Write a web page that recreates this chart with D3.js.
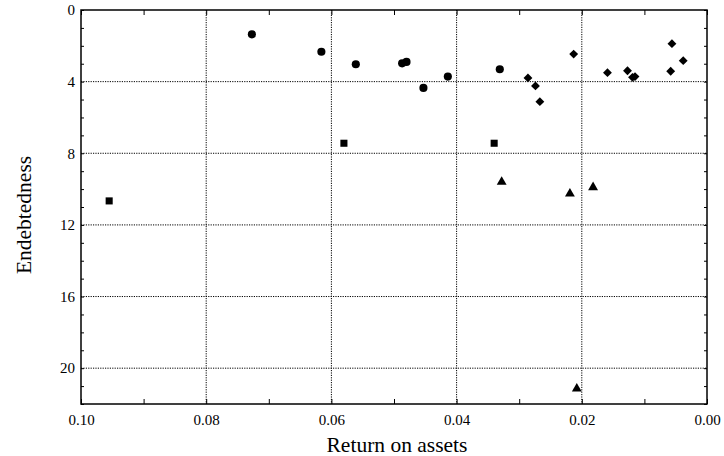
<!DOCTYPE html>
<html>
<head>
<meta charset="utf-8">
<script src="https://cdn.jsdelivr.net/npm/d3@7"></script>
<style>
  body { margin: 0; background: #fff; }
  svg text { font-family: "Liberation Serif", "Times New Roman", serif; fill: #000; }
  .grid line { stroke: #000; stroke-width: 1; stroke-dasharray: 1.2,1.2; }
  .tick-label { font-size: 15px; }
  .axis-title { font-size: 21.5px; }
</style>
</head>
<body>
<div class="chart"></div>
<script>
// Return on assets vs endebtedness, four groups of firms
var circleRoa  = [0.0727, 0.0616, 0.0561, 0.0487, 0.0480, 0.0453, 0.0414, 0.0331];
var circleDebt = [1.36, 2.33, 3.03, 2.98, 2.90, 4.35, 3.72, 3.31];

var diamondRoa  = [0.0286, 0.0274, 0.0267, 0.0213, 0.0159, 0.0127, 0.0119, 0.0115, 0.0056, 0.0058, 0.0038];
var diamondDebt = [3.79, 4.24, 5.12, 2.46, 3.50, 3.39, 3.76, 3.72, 1.88, 3.42, 2.83];

var squareRoa  = [0.0955, 0.0580, 0.0340];
var squareDebt = [10.66, 7.44, 7.44];

var triangleRoa  = [0.0328, 0.0219, 0.0182, 0.0208];
var triangleDebt = [9.6, 10.25, 9.9, 21.15];

var xTicks = [0.10, 0.08, 0.06, 0.04, 0.02, 0.00];
var yTicks = [0, 4, 8, 12, 16, 20];

var svgWidth = 724;
var svgHeight = 456;
var margin = { top: 10, right: 17, bottom: 52, left: 81 };
var width = svgWidth - margin.left - margin.right;
var height = svgHeight - margin.top - margin.bottom;

var svg = d3.select(".chart")
    .append("svg")
    .attr("width", svgWidth)
    .attr("height", svgHeight);
var chart = svg.append("g")
    .attr("transform", "translate(" + margin.left + "," + margin.top + ")");

// both axes run backwards
var x = d3.scaleLinear().domain([0.10, 0.00]).range([0, width]);
var y = d3.scaleLinear().domain([0, 22]).range([0, height]);

// dotted grid
var grid = chart.append("g").attr("class", "grid");
grid.selectAll(".gx")
    .data(xTicks.slice(1, -1))
    .enter().append("line")
    .attr("x1", function(d) { return x(d); })
    .attr("x2", function(d) { return x(d); })
    .attr("y1", 0).attr("y2", height);
grid.selectAll(".gy")
    .data(yTicks.slice(1))
    .enter().append("line")
    .attr("y1", function(d) { return y(d); })
    .attr("y2", function(d) { return y(d); })
    .attr("x1", 0).attr("x2", width);

// axes with ticks pointing inward, minor ticks between
var minorX = d3.range(0, 11).map(function(i) { return i / 100; });
var minorY = d3.range(0, 23);

function styleAxis(g) {
    g.select(".domain").remove();
    g.selectAll(".tick line").attr("stroke", "#000");
}

chart.append("g")
    .attr("transform", "translate(0," + height + ")")
    .call(d3.axisBottom(x).tickValues(minorX).tickSize(-5).tickFormat(""))
    .call(styleAxis);
chart.append("g")
    .attr("transform", "translate(0," + height + ")")
    .call(d3.axisBottom(x).tickValues(xTicks).tickSize(0).tickPadding(10).tickFormat(d3.format(".2f")))
    .call(function(g) {
        g.select(".domain").remove();
        g.selectAll("text").attr("class", "tick-label");
    });
chart.append("g")
    .call(d3.axisTop(x).tickValues(minorX).tickSize(-5).tickFormat(""))
    .call(styleAxis);

chart.append("g")
    .call(d3.axisLeft(y).tickValues(minorY).tickSize(-3).tickFormat(""))
    .call(styleAxis);
chart.append("g")
    .call(d3.axisLeft(y).tickValues(yTicks).tickSize(0).tickPadding(6).tickFormat(d3.format("d")))
    .call(function(g) {
        g.select(".domain").remove();
        g.selectAll("text").attr("class", "tick-label");
    });
chart.append("g")
    .attr("transform", "translate(" + width + ",0)")
    .call(d3.axisRight(y).tickValues(minorY).tickSize(-3).tickFormat(""))
    .call(styleAxis);

// frame
chart.append("rect")
    .attr("width", width)
    .attr("height", height)
    .attr("fill", "none")
    .attr("stroke", "#000")
    .attr("stroke-width", 1.5);

function addPoints(roa, debt, symbolType, size) {
    var pts = roa.map(function(r, i) { return { roa: r, debt: debt[i] }; });
    chart.append("g").selectAll("path")
        .data(pts)
        .enter().append("path")
        .attr("d", d3.symbol().type(symbolType).size(size))
        .attr("transform", function(d) {
            return "translate(" + x(d.roa) + "," + y(d.debt) + ")";
        })
        .attr("fill", "#000");
}

addPoints(circleRoa, circleDebt, d3.symbolCircle, 52);
addPoints(diamondRoa, diamondDebt, d3.symbolDiamond2, 50);
addPoints(squareRoa, squareDebt, d3.symbolSquare, 50);
addPoints(triangleRoa, triangleDebt, d3.symbolTriangle, 42);

// titles
chart.append("text")
    .attr("class", "axis-title")
    .attr("text-anchor", "middle")
    .attr("x", width / 2 + 3)
    .attr("y", height + 48)
    .text("Return on assets");

chart.append("text")
    .attr("class", "axis-title")
    .attr("text-anchor", "middle")
    .attr("transform", "rotate(-90)")
    .attr("x", -205)
    .attr("y", -50)
    .text("Endebtedness");
</script>
</body>
</html>
